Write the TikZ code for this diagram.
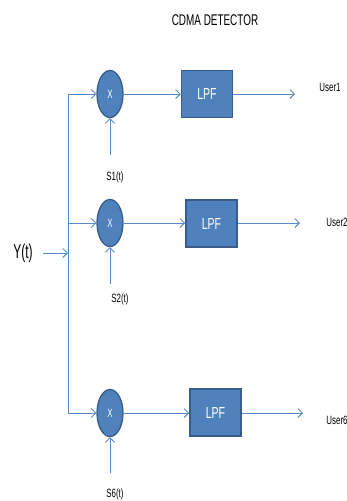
\documentclass[tikz,border=0pt]{standalone}
\usepackage{fontspec}
\setmainfont{Liberation Sans}
\usepackage{graphicx}
\usetikzlibrary{arrows.meta,shapes.geometric}
\definecolor{fillblue}{HTML}{4F81BD}
\definecolor{edgeblue}{HTML}{385D8A}
\definecolor{lineblue}{HTML}{5B8BC6}
\newcommand{\sq}[2][0.66]{\scalebox{#1}[1]{#2}}
\begin{document}
\begin{tikzpicture}[x=1pt,y=-1pt,
  wire/.style={draw=lineblue,line width=0.9pt},
  arr/.style={wire,-{Straight Barb[length=4.5pt,width=9pt]}},
  mixer/.style={ellipse,draw=edgeblue,fill=fillblue,line width=1.3pt,minimum width=26pt,minimum height=47pt,inner sep=0pt,text=white,font=\fontsize{12}{12}\selectfont},
  lpf/.style={rectangle,draw=edgeblue,fill=fillblue,line width=1.5pt,minimum width=51pt,minimum height=47pt,inner sep=0pt,text=white,font=\fontsize{16}{16}\selectfont},
  lbl/.style={inner sep=0pt,font=\fontsize{12}{12}\selectfont},
]
\useasboundingbox (0,0) rectangle (347,501);
\node[inner sep=0pt,font=\fontsize{15.5}{15.5}\selectfont] (title) at (215,20) {\sq[0.64]{CDMA DETECTOR}};
\node[inner sep=0pt,font=\fontsize{20}{20}\selectfont] (y) at (23,253) {\sq[0.6]{Y(t)}};
\coordinate (yin) at (43,253);
\coordinate (b1) at (68,94);
\coordinate (b2) at (68,223);
\coordinate (b3) at (68,413);
\coordinate (by) at (68,253);
\draw[wire] (b1) -- (b3);
\draw[arr] (yin) -- (by);

% row 1
\node[mixer] (m1) at (110,94) {\sq{X}};
\node[lpf] (f1) at (207,94) {\sq{LPF}};
\coordinate (o1) at (295,94);
\node[lbl] (u1) at (330,87) {\sq{User1}};
\coordinate (s1) at (110,155);
\node[lbl] (t1) at (115,177) {\sq{S1(t)}};
\draw[arr] (b1) -- (m1);
\draw[arr] (m1) -- (f1);
\draw[arr] (f1) -- (o1);
\draw[arr] (s1) -- (m1);

% row 2
\node[mixer] (m2) at (110,223) {\sq{X}};
\node[lpf] (f2) at (211.5,223.5) {\sq{LPF}};
\coordinate (o2) at (300,223);
\node[lbl] (u2) at (337,222) {\sq{User2}};
\coordinate (s2) at (110,284);
\node[lbl] (t2) at (120,299) {\sq{S2(t)}};
\draw[arr] (b2) -- (m2);
\draw[arr] (m2) -- (f2.west |- m2);
\draw[arr] (f2.east |- m2) -- (o2);
\draw[arr] (s2) -- (m2);

% row 3
\node[mixer] (m3) at (110,413) {\sq{X}};
\node[lpf] (f3) at (215.5,412.5) {\sq{LPF}};
\coordinate (o3) at (303,413);
\node[lbl] (u3) at (337,420) {\sq{User6}};
\coordinate (s3) at (110,473);
\node[lbl] (t3) at (115,494) {\sq{S6(t)}};
\draw[arr] (b3) -- (m3);
\draw[arr] (m3) -- (f3.west |- m3);
\draw[arr] (f3.east |- m3) -- (o3);
\draw[arr] (s3) -- (m3);
\end{tikzpicture}
\end{document}
